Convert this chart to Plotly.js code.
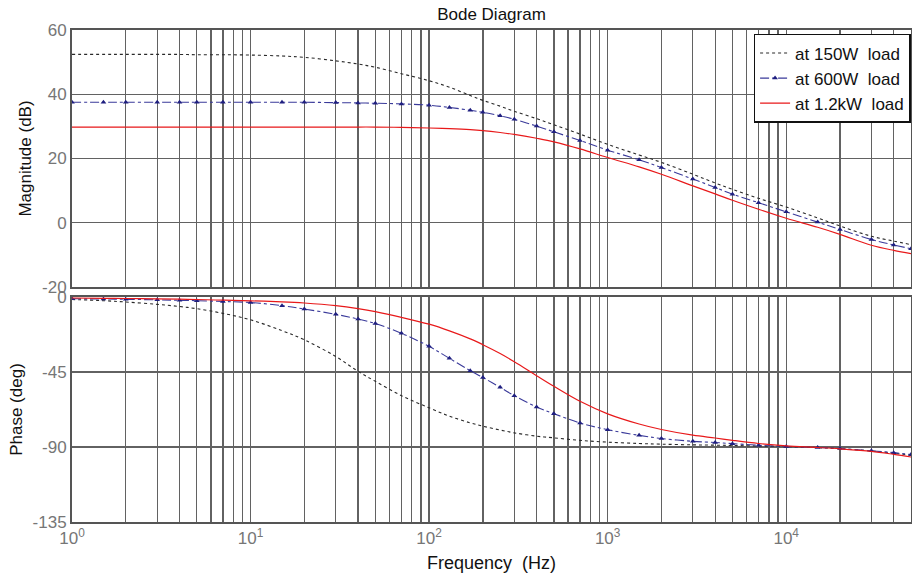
<!DOCTYPE html>
<html>
<head>
<meta charset="utf-8">
<script src="https://cdn.plot.ly/plotly-3.0.1.min.js"></script>
<style>html,body{margin:0;padding:0;background:#fff;}#chart{width:912px;height:579px;}</style>
</head>
<body>
<div id="chart"></div>
<script>
// Frequency grid (Hz)
const freq = [1, 1.5, 2, 3, 4, 5, 7, 10, 15, 20, 30, 40, 50, 70, 100, 130, 170, 200, 250, 300, 400, 500, 700, 1000, 1500, 2000, 3000, 4000, 5000, 7000, 10000, 15000, 20000, 30000, 40000, 50000];

// Magnitude (dB)
const mag150 = [52.4, 52.4, 52.4, 52.4, 52.4, 52.3, 52.3, 52.2, 51.9, 51.5, 50.4, 49.4, 48.4, 46.4, 44.2, 42.2, 39.6, 38.1, 36.3, 34.7, 32.4, 30.5, 27.6, 24.4, 21.1, 18.8, 15.1, 12.4, 10.4, 7.6, 4.9, 1.5, -1.0, -4.2, -5.7, -6.8];
const mag600 = [37.5, 37.5, 37.5, 37.5, 37.5, 37.5, 37.5, 37.5, 37.5, 37.5, 37.4, 37.3, 37.2, 37.0, 36.6, 35.9, 35.0, 34.4, 33.3, 32.2, 30.1, 28.3, 25.6, 22.6, 19.6, 17.2, 13.6, 11.0, 8.9, 6.25, 3.4, 0.2, -2.1, -5.2, -6.9, -8.1];
const mag1200 = [29.8, 29.8, 29.8, 29.8, 29.8, 29.8, 29.8, 29.8, 29.8, 29.8, 29.8, 29.8, 29.8, 29.7, 29.5, 29.3, 29.0, 28.7, 28.1, 27.5, 26.3, 25.2, 23.0, 20.3, 17.4, 15.1, 11.5, 9.0, 7.0, 4.2, 1.4, -1.4, -3.6, -7.0, -8.6, -9.6];

// Phase (deg)
const ph150 = [-1.5, -2.2, -3.0, -4.4, -5.7, -7.0, -9.8, -13.7, -20.2, -25.7, -35.7, -44.6, -50.6, -59.2, -66.5, -71.5, -75.5, -77.5, -79.8, -81.5, -83.5, -84.5, -86.0, -87.1, -87.9, -88.3, -88.7, -88.9, -89.1, -89.4, -89.8, -90.4, -91.0, -92.4, -93.7, -95.0];
const ph600 = [-1.0, -1.2, -1.4, -1.7, -2.0, -2.2, -2.7, -3.3, -5.2, -7.2, -10.4, -13.2, -15.9, -21.8, -29.6, -36.8, -44.2, -48.3, -54.2, -59.2, -66.0, -70.0, -75.6, -79.6, -83.0, -84.9, -86.6, -87.3, -88.0, -88.9, -89.7, -90.3, -90.9, -92.3, -93.4, -94.5];
const ph1200 = [-0.6, -0.8, -0.9, -1.1, -1.3, -1.5, -1.9, -2.3, -2.9, -3.6, -5.2, -7.0, -8.8, -12.2, -16.3, -20.3, -25.1, -28.6, -33.9, -38.8, -47.2, -53.6, -62.6, -70.1, -76.2, -79.5, -82.9, -84.6, -86.0, -87.9, -89.3, -90.3, -91.1, -92.6, -94.4, -96.0];

// Axis ticks
const xGridVals = [1,2,3,4,5,6,7,8,9,10,20,30,40,50,60,70,80,90,100,200,300,400,500,600,700,800,900,1000,2000,3000,4000,5000,6000,7000,8000,9000,10000,20000,30000,40000,50000];
const decadeLabels = {1: '10<sup>0</sup>', 10: '10<sup>1</sup>', 100: '10<sup>2</sup>', 1000: '10<sup>3</sup>', 10000: '10<sup>4</sup>'};
const magTicks = [-20, 0, 20, 40, 60];
const magTickText = ['-20', '0', '20', '40', '60'];
const phaseTicks = [-135, -90, -45, 0];
const phaseTickText = ['-135', '-90', '-45', '0'];
const seriesNames = ['at 150W  load', 'at 600W  load', 'at 1.2kW  load'];

const xTextEmpty = xGridVals.map(() => '');
const xTextLabels = xGridVals.map(v => decadeLabels[v] || '');

const styles = [
  {line: {color: '#2a2a2a', width: 1.1, dash: 'dot', shape: 'spline'}, mode: 'lines'},
  {line: {color: '#3a3a9a', width: 1.1, dash: 'dashdot', shape: 'spline'}, mode: 'lines+markers',
   marker: {symbol: 'triangle-up', size: 5, color: '#1f1f80'}},
  {line: {color: '#e8191a', width: 1.2, shape: 'spline'}, mode: 'lines'}
];
const mags = [mag150, mag600, mag1200];
const phs = [ph150, ph600, ph1200];

const traces = [];
for (let i = 0; i < 3; i++) {
  traces.push(Object.assign({x: freq, y: mags[i], name: seriesNames[i], xaxis: 'x', yaxis: 'y', showlegend: true, legendgroup: 'g' + i}, styles[i]));
}
for (let i = 0; i < 3; i++) {
  traces.push(Object.assign({x: freq, y: phs[i], name: seriesNames[i], xaxis: 'x2', yaxis: 'y2', showlegend: false, legendgroup: 'g' + i}, styles[i]));
}

const FONT = 'Liberation Sans, Arial, sans-serif';
const gridColor = '#626262';
const tickFont = {family: FONT, size: 17, color: '#767676'};
const titleFont = {family: FONT, size: 17, color: '#111'};

const xBase = {
  type: 'log', range: [0, Math.log10(50000)], tickmode: 'array', tickvals: xGridVals,
  showgrid: true, gridcolor: gridColor, gridwidth: 1.3, zeroline: false,
  showline: true, mirror: true, linecolor: '#555', linewidth: 2, ticks: '', tickfont: tickFont
};

const layout = {
  width: 912, height: 579,
  margin: {l: 72, r: 1, t: 30, b: 57},
  paper_bgcolor: '#fff', plot_bgcolor: '#fff',
  font: {family: FONT},
  title: {text: 'Bode Diagram', font: {family: FONT, size: 17, color: '#111'},
          x: 0.5, xref: 'paper', y: 1 - 14 / 579, yanchor: 'middle'},
  xaxis: Object.assign({}, xBase, {domain: [0, 1], anchor: 'y', ticktext: xTextEmpty, showticklabels: false, matches: 'x2'}),
  xaxis2: Object.assign({}, xBase, {domain: [0, 1], anchor: 'y2', ticktext: xTextLabels,
    title: {text: 'Frequency  (Hz)', font: {family: FONT, size: 18, color: '#111'}, standoff: 9}}),
  yaxis: {domain: [0.4776, 1], range: [-20, 60], tickmode: 'array', tickvals: magTicks, ticktext: magTickText, anchor: 'x',
    showgrid: true, gridcolor: gridColor, gridwidth: 1.3, zeroline: false,
    showline: true, mirror: true, linecolor: '#555', linewidth: 2, ticks: '', tickfont: tickFont,
    title: {text: 'Magnitude (dB)', font: titleFont, standoff: 6}},
  yaxis2: {domain: [0, 0.4573], range: [-135, 0], tickmode: 'array', tickvals: phaseTicks, ticktext: phaseTickText, anchor: 'x2',
    showgrid: true, gridcolor: gridColor, gridwidth: 1.3, zeroline: false,
    showline: true, mirror: true, linecolor: '#555', linewidth: 2, ticks: '', tickfont: tickFont,
    title: {text: 'Phase (deg)', font: titleFont, standoff: 6}},
  legend: {x: 0.9995, xanchor: 'right', y: 0.992, yanchor: 'top', bgcolor: '#fff',
    bordercolor: '#111', borderwidth: 1.5, font: {family: FONT, size: 17, color: '#111'},
    itemwidth: 30, tracegroupgap: 0}
};

Plotly.newPlot('chart', traces, layout, {displayModeBar: false, staticPlot: true});
</script>
</body>
</html>
